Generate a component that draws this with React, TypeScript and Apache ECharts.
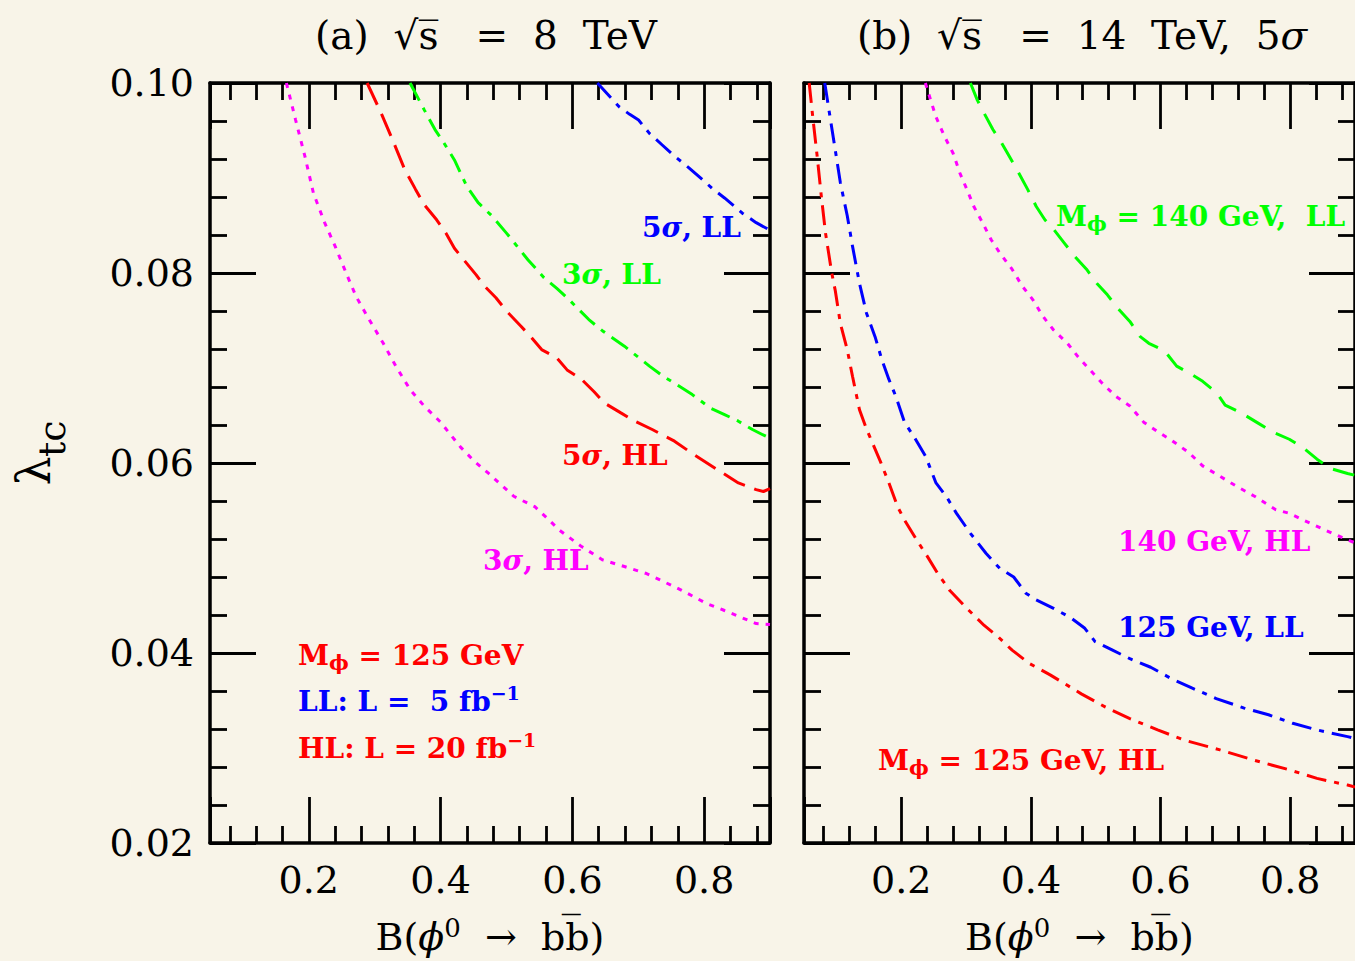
import React, { useEffect, useRef } from 'react';
import * as echarts from 'echarts';

// ---------- axis ranges ----------
const X_MIN = 0.05;
const X_MAX = 0.9;
const Y_MIN = 0.02;
const Y_MAX = 0.1;
const Y_STEP = 0.02;

// ---------- panel (a): sqrt(s) = 8 TeV ----------
const a_3sigma_HL: [number, number][] = [
  [0.166, 0.1], [0.18, 0.0961], [0.194, 0.0923], [0.207, 0.0884], [0.224, 0.0853], [0.24, 0.0828],
  [0.259, 0.0796], [0.272, 0.0775], [0.289, 0.0754], [0.313, 0.0726], [0.332, 0.0702], [0.354, 0.0677],
  [0.375, 0.066], [0.4, 0.0643], [0.43, 0.0617], [0.451, 0.0602], [0.473, 0.0589], [0.511, 0.0565],
  [0.543, 0.0554], [0.56, 0.0543], [0.581, 0.0529], [0.614, 0.0512], [0.646, 0.0498], [0.679, 0.0491],
  [0.711, 0.0484], [0.733, 0.0477], [0.766, 0.0466], [0.804, 0.0452], [0.83, 0.0445], [0.879, 0.0431],
  [0.9, 0.043],
];
const a_5sigma_HL: [number, number][] = [
  [0.2885, 0.1], [0.31, 0.0968], [0.329, 0.0937], [0.3455, 0.0909], [0.362, 0.0888], [0.375, 0.0872],
  [0.394, 0.0856], [0.408, 0.0842], [0.421, 0.0826], [0.435, 0.0814], [0.454, 0.0798], [0.467, 0.0786],
  [0.484, 0.0774], [0.5, 0.076], [0.522, 0.0744], [0.538, 0.0732], [0.554, 0.0719], [0.576, 0.0711],
  [0.592, 0.0698], [0.614, 0.0688], [0.633, 0.0675], [0.649, 0.0663], [0.673, 0.0653], [0.695, 0.0644],
  [0.722, 0.0635], [0.755, 0.0623], [0.782, 0.061], [0.82, 0.0593], [0.852, 0.0579], [0.879, 0.0572],
  [0.89, 0.057], [0.9, 0.0573],
];
const a_3sigma_LL: [number, number][] = [
  [0.3536, 0.1], [0.375, 0.0972], [0.3915, 0.0951], [0.405, 0.0937], [0.421, 0.0919], [0.44, 0.0891],
  [0.457, 0.0874], [0.478, 0.086], [0.5, 0.0842], [0.5325, 0.0814], [0.557, 0.0795], [0.576, 0.0784],
  [0.592, 0.0774], [0.625, 0.0751], [0.646, 0.0739], [0.679, 0.0723], [0.717, 0.0702], [0.7385, 0.0691],
  [0.755, 0.0684], [0.782, 0.0672], [0.809, 0.0658], [0.831, 0.0651], [0.852, 0.0644], [0.874, 0.0635],
  [0.9, 0.0626],
];
const a_5sigma_LL: [number, number][] = [
  [0.638, 0.1], [0.671, 0.0975], [0.687, 0.0967], [0.7005, 0.0961], [0.717, 0.0947], [0.736, 0.0935],
  [0.755, 0.0923], [0.7765, 0.0911], [0.798, 0.0898], [0.814, 0.0888], [0.831, 0.0879], [0.858, 0.0863],
  [0.879, 0.0853], [0.9, 0.0845],
];

// ---------- panel (b): sqrt(s) = 14 TeV, 5 sigma ----------
const b_125_HL: [number, number][] = [
  [0.058, 0.1], [0.0634, 0.0965], [0.0703, 0.0923], [0.0767, 0.0881], [0.0832, 0.0842], [0.0928, 0.08],
  [0.0981, 0.0782], [0.1061, 0.0747], [0.1168, 0.0719], [0.1249, 0.0691], [0.1356, 0.0656], [0.1463, 0.0636],
  [0.1676, 0.0602], [0.181, 0.0579], [0.1944, 0.0554], [0.205, 0.054], [0.2238, 0.0519], [0.24, 0.0502],
  [0.256, 0.0484], [0.2746, 0.0466], [0.3013, 0.0447], [0.328, 0.0429], [0.3495, 0.0417], [0.371, 0.0403],
  [0.3976, 0.0389], [0.4297, 0.0377], [0.4778, 0.0357], [0.5152, 0.0343], [0.5527, 0.0331], [0.5955, 0.0319],
  [0.638, 0.0308], [0.6917, 0.0298], [0.745, 0.0287], [0.7987, 0.0277], [0.8414, 0.0268], [0.8885, 0.0261],
  [0.9, 0.0259],
];
const b_125_LL: [number, number][] = [
  [0.082, 0.1], [0.09, 0.0965], [0.0981, 0.093], [0.1061, 0.0895], [0.1168, 0.086], [0.1249, 0.0828],
  [0.1356, 0.0789], [0.1463, 0.0758], [0.1596, 0.0733], [0.17, 0.0709], [0.181, 0.0688], [0.1917, 0.067],
  [0.205, 0.0643], [0.2211, 0.0626], [0.2376, 0.0607], [0.2536, 0.0579], [0.2693, 0.0565], [0.2853, 0.0547],
  [0.3067, 0.0526], [0.3307, 0.0505], [0.352, 0.0489], [0.3735, 0.048], [0.3922, 0.0463], [0.408, 0.0456],
  [0.435, 0.0447], [0.4618, 0.0437], [0.4832, 0.0426], [0.499, 0.0412], [0.526, 0.0403], [0.5527, 0.0394],
  [0.5848, 0.0385], [0.6168, 0.0373], [0.649, 0.0363], [0.686, 0.0352], [0.729, 0.0342], [0.7666, 0.0335],
  [0.804, 0.0326], [0.8414, 0.0319], [0.8885, 0.0312], [0.9, 0.031],
];
const b_140_HL: [number, number][] = [
  [0.2372, 0.1], [0.2532, 0.0965], [0.2666, 0.0944], [0.28, 0.0926], [0.2906, 0.0905], [0.3013, 0.0888],
  [0.312, 0.087], [0.3254, 0.0853], [0.3388, 0.0835], [0.3521, 0.0821], [0.3709, 0.0804], [0.3869, 0.0786],
  [0.4029, 0.0772], [0.419, 0.0754], [0.435, 0.074], [0.4564, 0.0726], [0.4725, 0.0712], [0.4912, 0.0698],
  [0.51, 0.0684], [0.5313, 0.067], [0.5527, 0.066], [0.574, 0.0643], [0.5955, 0.0633], [0.6168, 0.0624],
  [0.6436, 0.0611], [0.665, 0.0597], [0.6917, 0.0586], [0.7184, 0.0575], [0.745, 0.0565], [0.7773, 0.0551],
  [0.7987, 0.0547], [0.82, 0.054], [0.852, 0.053], [0.8885, 0.0519], [0.9, 0.0516],
];
const b_140_LL: [number, number][] = [
  [0.3067, 0.1], [0.3174, 0.0982], [0.328, 0.0968], [0.3414, 0.0951], [0.3548, 0.0937], [0.3682, 0.0921],
  [0.3815, 0.0905], [0.395, 0.0888], [0.4083, 0.087], [0.4216, 0.0856], [0.435, 0.0846], [0.451, 0.0832],
  [0.467, 0.0818], [0.4858, 0.0804], [0.5019, 0.0789], [0.518, 0.0777], [0.534, 0.0763], [0.5527, 0.0749],
  [0.5687, 0.0733], [0.582, 0.0726], [0.6062, 0.0718], [0.6249, 0.0702], [0.6436, 0.0695], [0.665, 0.0686],
  [0.6864, 0.0674], [0.6997, 0.0661], [0.7238, 0.0653], [0.7505, 0.0642], [0.7719, 0.0633], [0.7987, 0.0625],
  [0.82, 0.0616], [0.8414, 0.0604], [0.8628, 0.0594], [0.8885, 0.0589], [0.9, 0.0587],
];

// ---------- styles ----------
const SERIF = '"DejaVu Serif", "Liberation Serif", serif';
const LABEL_FONT = '"DejaVu Serif", "Liberation Serif", serif';
const BG = '#f8f4e8';
const RED = '#ff0000';
const GREEN = '#00ff00';
const BLUE = '#0000ff';
const MAGENTA = '#ff00ff';

const DOTTED = [5, 7];
const LONGDASH = [24, 10];
const DASHDOT = [20, 8, 5, 8];
const DASH = [22, 12];

const seriesDefs = [
  { name: '3σ, HL', data: a_3sigma_HL, color: MAGENTA, dash: DOTTED, panel: 0 },
  { name: '5σ, HL', data: a_5sigma_HL, color: RED, dash: LONGDASH, panel: 0 },
  { name: '3σ, LL', data: a_3sigma_LL, color: GREEN, dash: DASHDOT, panel: 0 },
  { name: '5σ, LL', data: a_5sigma_LL, color: BLUE, dash: DASHDOT, panel: 0 },
  { name: '125 GeV, HL', data: b_125_HL, color: RED, dash: DASHDOT, panel: 1 },
  { name: '125 GeV, LL', data: b_125_LL, color: BLUE, dash: DASHDOT, panel: 1 },
  { name: '140 GeV, HL', data: b_140_HL, color: MAGENTA, dash: DOTTED, panel: 1 },
  { name: '140 GeV, LL', data: b_140_LL, color: GREEN, dash: DASH, panel: 1 },
];

const axisLine = { show: true, onZero: false, lineStyle: { color: '#000', width: 3.5 } };
const axisTick = { show: true, inside: true, length: 46, lineStyle: { color: '#000', width: 2.8 } };
const minorTick = { show: true, splitNumber: 5, length: 17, lineStyle: { color: '#000', width: 2.8 } };

function makeXAxis(gridIndex: number, position: 'bottom' | 'top') {
  const bottom = position === 'bottom';
  return {
    type: 'value',
    gridIndex,
    position,
    min: X_MIN,
    max: X_MAX,
    axisLine,
    axisTick,
    minorTick,
    splitLine: { show: false },
    minorSplitLine: { show: false },
    axisLabel: {
      show: bottom,
      showMinLabel: false,
      showMaxLabel: false,
      margin: 18,
      fontSize: 38,
      fontFamily: SERIF,
      color: '#000',
      formatter: (v: number) => v.toFixed(1),
    },
    name: bottom ? '{t|B(}{i|ϕ}{sup|0}{t|  →  bb̅)}' : '',
    nameLocation: 'middle',
    nameGap: 72,
    nameTextStyle: {
      fontSize: 38,
      fontFamily: SERIF,
      color: '#000',
      rich: {
        t: { fontSize: 38, fontFamily: SERIF, color: '#000', lineHeight: 44 },
        i: { fontSize: 38, fontFamily: SERIF, color: '#000', fontStyle: 'italic', lineHeight: 44 },
        sup: { fontSize: 26, fontFamily: SERIF, color: '#000', lineHeight: 22, verticalAlign: 'top' },
      },
    },
  };
}

function makeYAxis(gridIndex: number, position: 'left' | 'right', showLabels: boolean) {
  return {
    type: 'value',
    gridIndex,
    position,
    min: Y_MIN,
    max: Y_MAX,
    interval: Y_STEP,
    axisLine,
    axisTick,
    minorTick,
    splitLine: { show: false },
    minorSplitLine: { show: false },
    axisLabel: {
      show: showLabels,
      margin: 16,
      fontSize: 38,
      fontFamily: SERIF,
      color: '#000',
      formatter: (v: number) => v.toFixed(2),
    },
  };
}

function rich(color: string) {
  const base = { fontFamily: LABEL_FONT, fontWeight: 'bold', fill: color };
  return {
    n: { ...base, fontSize: 28, lineHeight: 36 },
    i: { ...base, fontSize: 28, lineHeight: 36, fontStyle: 'italic' },
    sub: { ...base, fontSize: 21, lineHeight: 6, verticalAlign: 'bottom' },
    sup: { ...base, fontSize: 19, lineHeight: 16, verticalAlign: 'top' },
  };
}

function label(x: number, y: number, text: string, color: string) {
  return {
    type: 'text',
    x,
    y,
    z: 10,
    style: {
      text,
      rich: rich(color),
      fill: color,
      align: 'left',
      verticalAlign: 'middle',
      textAlign: 'left',
      textVerticalAlign: 'middle',
    },
  };
}

function titleText(x: number, text: string) {
  return {
    type: 'text',
    x,
    y: 35,
    style: {
      text,
      rich: {
        t: { fontFamily: SERIF, fontSize: 39, fill: '#000' },
        ti: { fontFamily: SERIF, fontSize: 39, fill: '#000', fontStyle: 'italic' },
      },
      fill: '#000',
      align: 'center',
      verticalAlign: 'middle',
      textAlign: 'center',
      textVerticalAlign: 'middle',
    },
  };
}

export default function App() {
  const ref = useRef<HTMLDivElement>(null);

  useEffect(() => {
    if (!ref.current) return;
    const chart = echarts.init(ref.current, undefined, { renderer: 'svg' });

    const option: any = {
      animation: false,
      backgroundColor: BG,
      grid: [
        { left: 210, top: 83, width: 560, height: 760 },
        { left: 804, top: 83, width: 559, height: 760 },
      ],
      xAxis: [makeXAxis(0, 'bottom'), makeXAxis(0, 'top'), makeXAxis(1, 'bottom'), makeXAxis(1, 'top')],
      yAxis: [
        makeYAxis(0, 'left', true),
        makeYAxis(0, 'right', false),
        makeYAxis(1, 'left', false),
        makeYAxis(1, 'right', false),
      ],
      series: seriesDefs.map((s) => ({
        name: s.name,
        type: 'line',
        xAxisIndex: s.panel * 2,
        yAxisIndex: s.panel * 2,
        data: s.data,
        showSymbol: false,
        symbol: 'none',
        smooth: false,
        clip: true,
        lineStyle: { color: s.color, width: 3, type: s.dash },
        emphasis: { disabled: true },
      })),
      graphic: [
        titleText(486, '{t|(a)  √s̅   =  8  TeV}'),
        titleText(1082, '{t|(b)  √s̅   =  14  TeV,  5}{ti|σ}'),
        {
          type: 'group',
          x: 34,
          y: 471,
          rotation: Math.PI / 2,
          children: [
            {
              type: 'text',
              x: 0,
              y: 0,
              style: {
                text: 'λ',
                fontFamily: SERIF,
                fontSize: 46,
                fill: '#000',
                align: 'center',
                verticalAlign: 'middle',
                textAlign: 'center',
                textVerticalAlign: 'middle',
              },
            },
            {
              type: 'text',
              x: 14,
              y: 18,
              style: {
                text: 'tc',
                fontFamily: SERIF,
                fontSize: 38,
                fill: '#000',
                align: 'left',
                verticalAlign: 'middle',
                textAlign: 'left',
                textVerticalAlign: 'middle',
              },
            },
          ],
        },
        // panel (a) curve labels
        label(642, 227, '{n|5}{i|σ}{n|, LL}', BLUE),
        label(562, 274, '{n|3}{i|σ}{n|, LL}', GREEN),
        label(562, 455, '{n|5}{i|σ}{n|, HL}', RED),
        label(483, 560, '{n|3}{i|σ}{n|, HL}', MAGENTA),
        label(298, 655, '{n|M}{sub|ϕ}{n| = 125 GeV}', RED),
        label(298, 701, '{n|LL: L =  5 fb}{sup|−1}', BLUE),
        label(298, 748, '{n|HL: L = 20 fb}{sup|−1}', RED),
        // panel (b) curve labels
        label(1056, 216, '{n|M}{sub|ϕ}{n| = 140 GeV,  LL}', GREEN),
        label(1118, 541, '{n|140 GeV, HL}', MAGENTA),
        label(1118, 627, '{n|125 GeV, LL}', BLUE),
        label(878, 760, '{n|M}{sub|ϕ}{n| = 125 GeV, HL}', RED),
      ],
    };

    chart.setOption(option);
    return () => {
      chart.dispose();
    };
  }, []);

  return (
    <div
      ref={ref}
      style={{ position: 'fixed', left: 0, top: 0, width: 1355, height: 961, background: BG }}
    />
  );
}
